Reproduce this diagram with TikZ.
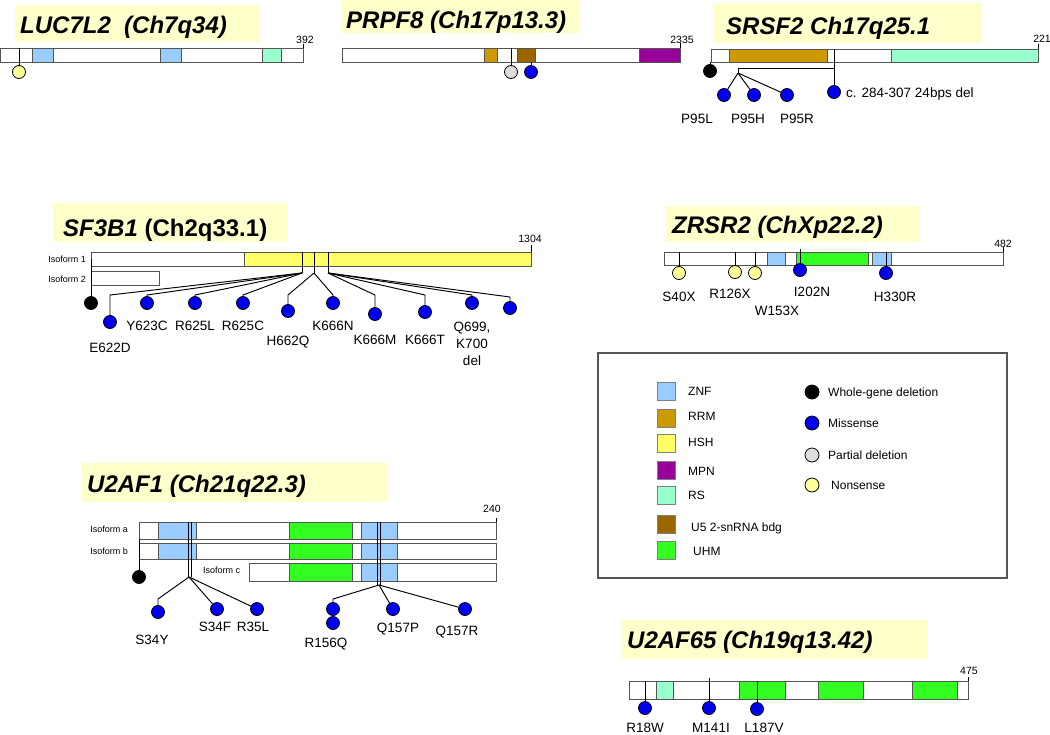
\documentclass[tikz,border=0pt]{standalone}
\usepackage{fontspec}
\setmainfont{Liberation Sans}
\definecolor{znf}{HTML}{99CCFF}
\definecolor{rrm}{HTML}{CC9900}
\definecolor{hsh}{HTML}{FFFF66}
\definecolor{mpn}{HTML}{990099}
\definecolor{rsd}{HTML}{99FFCC}
\definecolor{usn}{HTML}{996600}
\definecolor{uhm}{HTML}{33FF22}
\definecolor{titlebg}{HTML}{FFFFCC}
\definecolor{misblue}{HTML}{0000EE}
\definecolor{nonyel}{HTML}{FFFF99}
\definecolor{partgrey}{HTML}{DDDDDD}
\definecolor{barline}{HTML}{555555}
\begin{document}
\begin{tikzpicture}[x=1pt, y=-1pt,
    bar/.style={draw=barline, line width=0.9pt, fill=white},
    dom/.style={draw=barline, line width=0.9pt},
    stem/.style={line width=0.95pt},
    mut/.style={circle, draw=black, line width=0.8pt, minimum size=13pt, inner sep=0pt},
    mis/.style={mut, fill=misblue},
    non/.style={mut, fill=nonyel},
    part/.style={mut, fill=partgrey},
    whole/.style={mut, fill=black},
    gene/.style={font=\fontsize{24}{28}\selectfont\bfseries\itshape, anchor=base west, inner sep=0pt},
    lab/.style={font=\fontsize{13.5}{17}\selectfont, inner sep=0pt, text height=9.7pt, text depth=0pt},
    num/.style={font=\fontsize{10.5}{12}\selectfont, inner sep=0pt, text height=7.5pt, text depth=0pt},
    iso/.style={font=\fontsize{9}{11}\selectfont, inner sep=0pt, text height=6.5pt, text depth=0pt},
    legtext/.style={font=\fontsize{12}{14}\selectfont, inner sep=0pt, anchor=west, text height=8.6pt, text depth=0pt}]
    \useasboundingbox (0,0) rectangle (1050,734);
    % LUC7L2
    \fill[titlebg] (15,5) rectangle (260,42);
    \node[gene] (luc) at (20,33) {LUC7L2\ \ (Ch7q34)};
    \draw[bar] (0.5,48) rectangle (303,62);
    \foreach \a/\b/\c in {32/53/znf, 160/181/znf, 262/281/rsd}
        \draw[dom, fill=\c] (\a,48) rectangle (\b,62);
    \draw[line width=0.9pt] (303,48) -- (303,44);
    \node[num] (luclen) at (305,40) {392};
    \coordinate (lucs) at (19,48);
    \node[non] (lucm) at (19,72) {};
    \draw[stem] (lucs) -- (lucm);
    % PRPF8
    \fill[titlebg] (342,0) rectangle (580,33);
    \node[gene] (prpf) at (346,28) {PRPF8 (Ch17p13.3)};
    \draw[bar] (342,48) rectangle (680,62);
    \foreach \a/\b/\c in {484/497/rrm, 517/535/usn, 639/680/mpn}
        \draw[dom, fill=\c] (\a,48) rectangle (\b,62);
    \draw[line width=0.9pt] (680,48) -- (680,43);
    \node[num] (prpflen) at (682,40) {2335};
    \coordinate (prpfs1) at (511,48);
    \coordinate (prpfs2) at (531,62);
    \node[part] (prpfm1) at (511,72) {};
    \node[mis] (prpfm2) at (531,72) {};
    \draw[stem] (prpfs1) -- (prpfm1);
    \draw[stem] (prpfs2) -- (prpfm2);
    % SRSF2
    \fill[titlebg] (713,3) rectangle (982,43);
    \node[gene] (srsf) at (726,34) {SRSF2 Ch17q25.1};
    \draw[bar] (711,49) rectangle (1038,62);
    \foreach \a/\b/\c in {729/827/rrm, 891/1038/rsd}
        \draw[dom, fill=\c] (\a,49) rectangle (\b,62);
    \draw[line width=0.9pt] (1038,49) -- (1038,44);
    \node[num] (srsflen) at (1042,39) {221};
    \coordinate (srsfw) at (710,62);
    \node[whole] (srsfm0) at (710,71) {};
    \draw[stem] (srsfw) -- (srsfm0);
    \coordinate (srsft) at (834,49);
    \coordinate (srsfj) at (834,68);
    \coordinate (srsfh) at (738,68);
    \coordinate (srsfb) at (738,73);
    \node[mis] (srsfdel) at (834,92) {};
    \node[lab, anchor=west] (srsfdell) at (846,93) {c. 284-307 24bps del};
    \draw[stem] (srsft) -- (srsfdel);
    \draw[stem] (srsfj) -- (srsfh) -- (srsfb);
    \foreach \x/\lx/\t [count=\i] in {724/697/P95L, 754/748/P95H, 787/797/P95R} {
        \node[mis] (p95m\i) at (\x,95) {};
        \draw[stem] (srsfb) -- (p95m\i);
        \node[lab] (p95l\i) at (\lx,119) {\t};
    }
    % SF3B1
    \fill[titlebg] (53,203) rectangle (288,242);
    \node[gene] (sf) at (63,236) {SF3B1\upshape\ (Ch2q33.1)};
    \draw[bar] (91,252) rectangle (531,266);
    \draw[dom, fill=hsh] (244,252) rectangle (531,266);
    \draw[bar] (91,271) rectangle (159,285);
    \node[iso, anchor=east] (sfi1) at (86,259) {Isoform 1};
    \node[iso, anchor=east] (sfi2) at (86,279) {Isoform 2};
    \draw[line width=0.9pt] (531,252) -- (531,245);
    \node[num] (sflen) at (530,239) {1304};
    \coordinate (sfw) at (91,259);
    \node[whole] (sfm0) at (91,303) {};
    \draw[stem] (sfw) -- (sfm0);
    \foreach \n/\x in {sfa/302, sfb/314, sfc/328} {
        \coordinate (\n t) at (\x,252);
        \coordinate (\n) at (\x,273);
        \draw[stem] (\n t) -- (\n);
    }
    \foreach \br/\x/\cy/\txt/\ty [count=\i] in {sfa/110/322/E622D/348, sfa/147/303/Y623C/326,
        sfa/195/303/R625L/326, sfa/243/303/R625C/326, sfb/288/311/H662Q/341,
        sfb/333/303/K666N/326, sfc/375/314/K666M/340, sfc/425/312/K666T/340} {
        \coordinate (sfe\i) at (\x,295);
        \node[mis] (sfm\i) at (\x,\cy) {};
        \draw[stem] (\br) -- (sfe\i) -- (sfm\i);
        \node[lab] (sfl\i) at (\x,\ty) {\txt};
    }
    \coordinate (sfe9) at (472,295);
    \node[mis] (sfm9) at (472,303) {};
    \draw[stem] (sfc) -- (sfe9) -- (sfm9);
    \node[font=\fontsize{13.5}{17}\selectfont, inner sep=0pt, align=center, anchor=north] (sfl9) at (472,322) {Q699,\\K700\\del};
    \coordinate (sfe10) at (510,297);
    \node[mis] (sfm10) at (510,308) {};
    \draw[stem] (sfc) -- (sfe10) -- (sfm10);
    % ZRSR2
    \fill[titlebg] (666,206) rectangle (919,242);
    \node[gene] (zr) at (672,233) {ZRSR2 (ChXp22.2)};
    \draw[bar] (664,252) rectangle (1003,265);
    \foreach \a/\b/\c in {767/785/znf, 796/868/uhm, 872/891/znf}
        \draw[dom, fill=\c] (\a,252) rectangle (\b,265);
    \draw[line width=0.9pt] (1003,252) -- (1003,247);
    \node[num] (zrlen) at (1003,244) {482};
    \foreach \s/\x/\top/\cy/\txt/\lx/\ly [count=\i] in {non/679/252/273/S40X/679/297,
        non/735/252/272/R126X/730/294, non/755/252/273/W153X/777/311,
        mis/800/249/270/I202N/812/292, mis/886/252/273/H330R/895/297} {
        \coordinate (zrs\i) at (\x,\top);
        \node[\s] (zrm\i) at (\x,\cy) {};
        \draw[stem] (zrs\i) -- (zrm\i);
        \node[lab] (zrl\i) at (\lx,\ly) {\txt};
    }
    % Legend
    \draw[draw=barline, line width=1.3pt] (598,353) rectangle (1007,578);
    \foreach \c/\y/\t/\tx/\ty [count=\i] in {znf/391/ZNF/688/391, rrm/418/RRM/688/416,
        hsh/443/HSH/688/442, mpn/470/MPN/688/471, rsd/495/RS/688/495,
        usn/524/U5 2-snRNA bdg/691/527, uhm/550/UHM/693/551} {
        \draw[draw=gray, fill=\c] (657,{\y-9}) rectangle (675,{\y+9});
        \node[legtext] (legd\i) at (\tx,\ty) {\t};
    }
    \foreach \s/\y/\t/\tx [count=\i] in {whole/392/Whole-gene deletion/828, mis/423/Missense/828,
        part/455/Partial deletion/828, non/485/Nonsense/831} {
        \node[\s, minimum size=14pt] (legm\i) at (812,\y) {};
        \node[legtext] (legt\i) at (\tx,\y) {\t};
    }
    % U2AF1
    \fill[titlebg] (81,463) rectangle (387,502);
    \node[gene] (ua) at (87,492) {U2AF1 (Ch21q22.3)};
    \foreach \l/\r/\t/\b in {139/496/522/539, 139/496/543/559, 249/496/563/581}
        \draw[bar] (\l,\t) rectangle (\r,\b);
    \foreach \t/\b in {522/539, 543/559}
        \foreach \a/\e/\c in {158/196/znf, 289/352/uhm, 361/397/znf}
            \draw[dom, fill=\c] (\a,\t) rectangle (\e,\b);
    \foreach \a/\e/\c in {289/352/uhm, 361/397/znf}
        \draw[dom, fill=\c] (\a,563) rectangle (\e,581);
    \node[iso, anchor=east] (uai1) at (128,529) {Isoform a};
    \node[iso, anchor=east] (uai2) at (128,551) {Isoform b};
    \node[iso, anchor=west] (uai3) at (203,570) {Isoform c};
    \draw[line width=0.9pt] (496,522) -- (496,518);
    \node[num] (ualen) at (492,509) {240};
    \coordinate (uaw) at (139,539);
    \node[whole] (uam0) at (139,577) {};
    \draw[stem] (uaw) -- (uam0);
    \draw[stem] (188,522) -- (188,577) (191,522) -- (191,577);
    \draw[stem] (377,522) -- (377,585) (380,522) -- (380,585);
    \coordinate (uab1) at (189,577);
    \coordinate (uab2) at (379,585);
    \coordinate (uae1) at (158,599);
    \coordinate (uae4) at (333,599);
    \node[mis] (uam1) at (158,612) {};
    \node[mis] (uam2) at (217,609) {};
    \node[mis] (uam3) at (257,609) {};
    \node[mis] (uam5) at (333,623) {};
    \node[mis] (uam4) at (333,609) {};
    \node[mis] (uam6) at (393,609) {};
    \node[mis] (uam7) at (465,609) {};
    \draw[stem] (uab1) -- (uae1) -- (uam1);
    \draw[stem] (uab1) -- (uam2);
    \draw[stem] (uab1) -- (uam3);
    \draw[stem] (uab2) -- (uae4) -- (uam4);
    \draw[stem] (uab2) -- (uam6);
    \draw[stem] (uab2) -- (uam7);
    \foreach \x/\y/\t [count=\i] in {152/640/S34Y, 215/627/S34F, 253/627/R35L,
        326/643/R156Q, 398/628/Q157P, 457/631/Q157R}
        \node[lab] (ual\i) at (\x,\y) {\t};
    % U2AF65
    \fill[titlebg] (622,620) rectangle (928,659);
    \node[gene] (ub) at (627,648) {U2AF65 (Ch19q13.42)};
    \draw[bar] (629,681) rectangle (968,699);
    \foreach \a/\b/\c in {656/673/rsd, 739/785/uhm, 818/863/uhm, 912/957/uhm}
        \draw[dom, fill=\c] (\a,681) rectangle (\b,699);
    \draw[line width=0.9pt] (968,681) -- (968,677);
    \node[num] (ublen) at (969,671) {475};
    \foreach \x/\top/\cy/\txt/\lx [count=\i] in {645/681/708/R18W/645,
        709/678/708/M141I/711, 757/681/709/L187V/764} {
        \coordinate (ubs\i) at (\x,\top);
        \node[mis] (ubm\i) at (\x,\cy) {};
        \draw[stem] (ubs\i) -- (ubm\i);
        \node[lab] (ubl\i) at (\lx,728) {\txt};
    }
\end{tikzpicture}
\end{document}
